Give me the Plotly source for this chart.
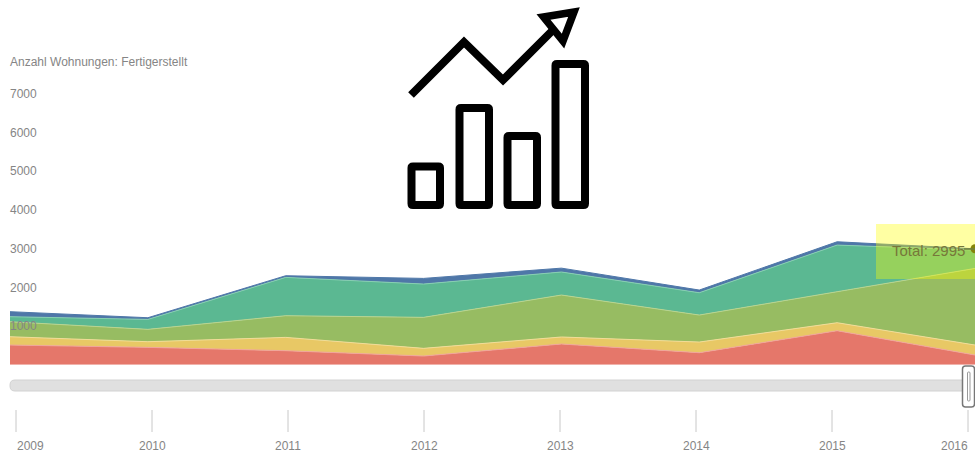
import plotly.graph_objects as go

years = [2009, 2010, 2011, 2012, 2013, 2014, 2015, 2016]
rot = [508, 448, 362, 224, 535, 310, 878, 250]
gelb = [215, 146, 344, 198, 181, 275, 207, 258]
gruen = [387, 319, 560, 801, 1084, 698, 801, 1980]
tuerkis = [130, 257, 990, 861, 595, 577, 1205, 474]
blau = [130, 44, 43, 146, 100, 69, 86, 33]
y_ticks = [1000, 2000, 3000, 4000, 5000, 6000, 7000]
y_title = "Anzahl Wohnungen: Fertigerstellt"

W, H = 975, 455
FONT = "Liberation Sans"
GREY = "#858585"

def px(x):
    return x / W

def py(y):
    return 1 - y / H

def rrect(x0, y0, x1, y1, r):
    a, b, c, d = px(x0), py(y0), px(x1), py(y1)
    rx, ry = r / W, r / H
    return (f"M{a+rx},{b} L{c-rx},{b} Q{c},{b} {c},{b-ry} L{c},{d+ry} Q{c},{d} {c-rx},{d} "
            f"L{a+rx},{d} Q{a},{d} {a},{d+ry} L{a},{b-ry} Q{a},{b} {a+rx},{b} Z")

def poly(points, close=False):
    s = "M" + " L".join(f"{px(x)},{py(y)}" for x, y in points)
    return s + (" Z" if close else "")

fig = go.Figure()
series = [
    ("Rot", rot, "#E5776A", "#F0A59B"),
    ("Gelb", gelb, "#E8C865", "#F2DC96"),
    ("Grün", gruen, "#97BC62", "#B9D48E"),
    ("Türkis", tuerkis, "#5BB892", "#86D0B0"),
    ("Blau", blau, "#4F77A8", "#4F77A8"),
]
for name, vals, col, edge in series:
    fig.add_trace(go.Scatter(x=years, y=vals, name=name, stackgroup="one", mode="lines",
                             line=dict(color=edge, width=1), fillcolor=col,
                             showlegend=False, hoverinfo="skip"))

total = sum(s[-1] for s in (rot, gelb, gruen, tuerkis, blau))
fig.add_trace(go.Scatter(x=[years[-1]], y=[total], mode="markers", cliponaxis=False,
                         marker=dict(size=9, color="#3f3f10"), showlegend=False, hoverinfo="skip"))

shapes = []
# slider
shapes.append(dict(type="path", xref="paper", yref="paper", path=rrect(10, 380, 968, 391, 5),
                   fillcolor="#e0e0e0", line=dict(color="#d2d2d2", width=1), layer="above"))
shapes.append(dict(type="path", xref="paper", yref="paper", path=rrect(962.5, 366, 974.5, 407, 3),
                   fillcolor="#ffffff", line=dict(color="#777777", width=1.5), layer="above"))
shapes.append(dict(type="path", xref="paper", yref="paper", path=rrect(967.5, 372, 970, 401, 1),
                   fillcolor="#ffffff", line=dict(color="#999999", width=1), layer="above"))
# highlight
shapes.append(dict(type="rect", xref="paper", yref="paper", x0=px(876), x1=1, y0=py(279), y1=py(224),
                   fillcolor="rgba(255,255,0,0.36)", line=dict(width=0), layer="above"))
shapes.append(dict(type="line", xref="paper", yref="paper", x0=px(964), x1=1, y0=py(249), y1=py(249),
                   line=dict(color="#6f7f40", width=1.5), layer="above"))
# icon
for x0, y0, x1, y1 in [(411.5, 166.5, 440, 205), (459.5, 108, 489, 205),
                       (507.5, 136, 537, 205), (555.5, 64, 585, 205)]:
    shapes.append(dict(type="path", xref="paper", yref="paper", path=rrect(x0, y0, x1, y1, 1.5),
                       line=dict(color="#000000", width=8), layer="above"))
shapes.append(dict(type="path", xref="paper", yref="paper",
                   path=poly([(411, 95), (464, 42), (503, 80), (553, 30)]),
                   line=dict(color="#000000", width=8), layer="above"))
shapes.append(dict(type="path", xref="paper", yref="paper",
                   path=poly([(543.5, 17), (574, 12), (563, 41)], close=True),
                   fillcolor="#ffffff", line=dict(color="#000000", width=7.5), layer="above"))
# year tick marks under the slider
for yr in years:
    shapes.append(dict(type="line", xref="x2", yref="paper", x0=yr, x1=yr, y0=py(410), y1=py(432),
                       line=dict(color="#c8c8c8", width=1), layer="above"))

annotations = [dict(text=y_title, xref="paper", yref="paper", x=px(8), y=py(62), xanchor="left",
                    yanchor="middle", showarrow=False, font=dict(family=FONT, size=12, color=GREY)),
               dict(text=f"Total: {total}", xref="paper", yref="paper", x=px(928), y=py(250),
                    xanchor="center", yanchor="middle", showarrow=False,
                    font=dict(family=FONT, size=15, color="#77773a"))]
for i, yr in enumerate(years):
    anchor = "left" if i == 0 else ("right" if i == len(years) - 1 else "center")
    shift = -1 if i == 0 else (2 if i == len(years) - 1 else 0)
    annotations.append(dict(text=str(yr), xref="x2", yref="paper", x=yr, y=py(446), xshift=shift,
                            xanchor=anchor, yanchor="middle", showarrow=False,
                            font=dict(family=FONT, size=12, color=GREY)))

fig.add_trace(go.Scatter(x=years, y=[None] * len(years), xaxis="x2", showlegend=False, hoverinfo="skip"))

fig.update_layout(
    width=W, height=H, margin=dict(l=0, r=0, t=0, b=0),
    paper_bgcolor="#ffffff", plot_bgcolor="rgba(0,0,0,0)",
    font=dict(family=FONT, size=12, color=GREY), showlegend=False,
    shapes=shapes, annotations=annotations,
    xaxis=dict(range=[years[0], years[-1]], domain=[px(10), 1], showgrid=False, zeroline=False,
               showline=False, ticks="", showticklabels=False, fixedrange=True),
    yaxis=dict(range=[0, 7500], domain=[py(364.7), py(74.45)], tickvals=y_ticks, showgrid=False,
               zeroline=False, showline=False, ticks="", ticklabelposition="inside",
               anchor="free", position=px(6),
               tickfont=dict(family=FONT, size=12, color=GREY), fixedrange=True),
    xaxis2=dict(range=[2008.9, 2016.05], domain=[px(2.4), px(974.8)], anchor="free", position=py(410),
                side="bottom", tickvals=years, showticklabels=False, ticks="", showgrid=False,
                zeroline=False, showline=False, fixedrange=True),
)
fig.write_html("out.html", config=dict(displayModeBar=False),
               post_script="document.body.style.margin='0';document.body.style.overflow='hidden';")
